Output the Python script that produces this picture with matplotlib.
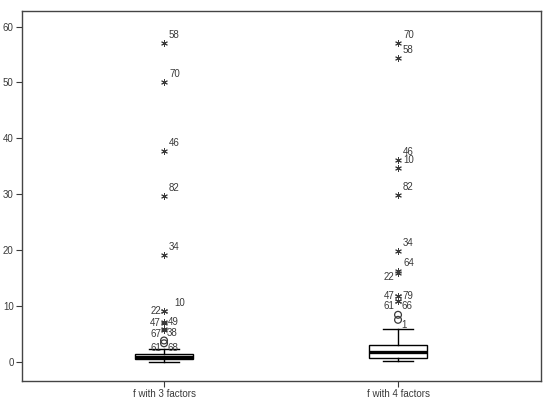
import matplotlib
matplotlib.use("Agg")
import matplotlib.pyplot as plt

# ---- data ----
categories = ["f with 3 factors", "f with 4 factors"]

# box summaries: q1, median, q3, lower whisker, upper whisker
q1 = [0.54, 0.6]
med = [0.85, 1.8]
q3 = [1.47, 3.0]
whis_lo = [0.0, 0.18]
whis_hi = [2.2, 5.9]

# extreme values (stars) and outliers (circles), with case ids
g1_star_vals = [57.1, 50.1, 37.7, 29.7, 19.1, 9.1, 9.0, 7.1, 7.0, 5.8, 5.7]
g1_star_ids = ["58", "70", "46", "82", "34", "10", "22", "49", "47", "38", "67"]
g1_circ_vals = [3.8, 3.3]
g1_circ_ids = ["68", "61"]

g2_star_vals = [57.0, 54.4, 36.2, 34.6, 29.9, 19.9, 16.3, 15.9, 11.8, 11.7, 10.9, 10.8]
g2_star_ids = ["70", "58", "46", "10", "82", "34", "64", "22", "79", "47", "66", "61"]
g2_circ_vals = [8.4, 7.5]
g2_circ_ids = ["", ""]
g2_tag_vals = [6.2]
g2_tag_ids = ["1"]

# label placement in pixels relative to marker (dx, dy, ha)
UR = (5, 8, "left")
R = (4, 0, "left")
L = (-3, 0, "right")
place = {
    0: {"58": UR, "70": UR, "46": UR, "82": UR, "34": UR, "10": (10, 8, "left"),
        "22": L, "49": R, "47": L, "38": (3, -4, "left"), "67": (-3, -4, "right"),
        "68": (3, -8, "left"), "61": (-3, -5, "right")},
    1: {"70": UR, "58": UR, "46": UR, "10": UR, "82": UR, "34": UR, "64": UR,
        "22": (-4, -4, "right"), "79": R, "47": L, "66": (3, -5, "left"),
        "61": (-4, -5, "right"), "1": (3, 2, "left")},
}

ink = "#3a3a3a"
plt.rcParams["font.family"] = ["Liberation Sans", "DejaVu Sans"]
plt.rcParams["font.size"] = 7

fig = plt.figure(figsize=(5.5, 4), dpi=100)
ax = fig.add_axes([22 / 550, 1 - 380.7 / 400, (541 - 22) / 550, (380.7 - 11) / 400])

stats = []
for i in range(2):
    stats.append(dict(med=med[i], q1=q1[i], q3=q3[i], whislo=whis_lo[i],
                      whishi=whis_hi[i], fliers=[], label=categories[i]))
ax.bxp(stats, positions=[1, 2], widths=0.25, showfliers=False, patch_artist=True,
       boxprops=dict(facecolor="white", edgecolor="black", linewidth=1.0),
       medianprops=dict(color="black", linewidth=2.4),
       whiskerprops=dict(color="black", linewidth=1.0),
       capprops=dict(color="black", linewidth=1.0), capwidths=0.125)

star = (6, 2, 0)
groups = [
    (g1_star_vals, g1_star_ids, g1_circ_vals, g1_circ_ids, [], []),
    (g2_star_vals, g2_star_ids, g2_circ_vals, g2_circ_ids, g2_tag_vals, g2_tag_ids),
]
for i, (sv, sid, cv, cid, tv, tid) in enumerate(groups):
    pos = i + 1
    ax.scatter([pos] * len(sv), sv, marker=star, s=18, color=ink, linewidths=0.7, zorder=3)
    ax.scatter([pos] * len(cv), cv, marker="o", s=24, facecolors="none",
               edgecolors=ink, linewidths=0.9, zorder=3)
    for v, lab in zip(list(sv) + list(cv) + list(tv), list(sid) + list(cid) + list(tid)):
        if not lab:
            continue
        dx, dy, ha = place[i][lab]
        ax.annotate(lab, (pos, v), xytext=(dx, dy), textcoords="offset pixels",
                    ha=ha, va="center", fontsize=7, color=ink)

ax.set_xlim(0.393, 2.611)
ax.set_ylim(-3.4, 62.8)
ax.set_yticks([0, 10, 20, 30, 40, 50, 60])
ax.set_xticks([1, 2])
ax.set_xticklabels(categories)
ax.tick_params(axis="both", direction="out", length=4, width=0.8, colors=ink,
               labelsize=7, pad=2)
for s in ax.spines.values():
    s.set_color("#444444")
    s.set_linewidth(1.0)

fig.savefig("out.png", dpi=100)
